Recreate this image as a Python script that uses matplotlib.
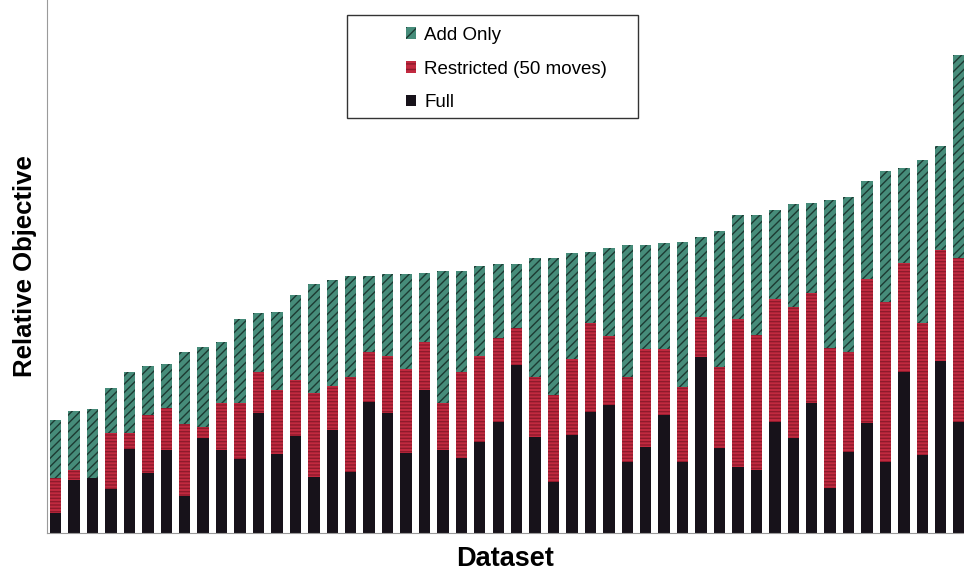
"""
Relative objective per dataset for three move strategies (overlapping bars).
"""

import matplotlib

matplotlib.use("Agg")
import matplotlib.pyplot as plt
from matplotlib.patches import Patch, Rectangle
import numpy as np

# bar heights (arbitrary units, baseline = 0)
add_only = [
    1.13, 1.22, 1.24, 1.45, 1.61, 1.67, 1.69, 1.81, 1.86, 1.91,
    2.14, 2.20, 2.21, 2.38, 2.49, 2.53, 2.57, 2.57, 2.59, 2.59,
    2.60, 2.62, 2.62, 2.67, 2.69, 2.69, 2.75, 2.75, 2.80, 2.81,
    2.85, 2.88, 2.88, 2.90, 2.91, 2.96, 3.02, 3.18, 3.18, 3.23,
    3.29, 3.30, 3.33, 3.36, 3.52, 3.62, 3.65, 3.73, 3.87, 4.78,
]
restricted = [
    0.55, 0.63, 0.50, 1.00, 1.00, 1.18, 1.25, 1.09, 1.06, 1.30,
    1.30, 1.61, 1.43, 1.53, 1.40, 1.47, 1.56, 1.81, 1.77, 1.64,
    1.91, 1.30, 1.61, 1.77, 1.95, 2.05, 1.56, 1.38, 1.74, 2.10,
    1.97, 1.56, 1.84, 1.84, 1.46, 2.16, 1.66, 2.14, 1.98, 2.34,
    2.26, 2.40, 1.85, 1.81, 2.54, 2.31, 2.70, 2.10, 2.83, 2.75,
]
full = [
    0.20, 0.53, 0.55, 0.44, 0.84, 0.60, 0.83, 0.37, 0.95, 0.83,
    0.74, 1.20, 0.79, 0.97, 0.56, 1.03, 0.61, 1.31, 1.20, 0.80,
    1.43, 0.83, 0.75, 0.91, 1.11, 1.68, 0.96, 0.51, 0.98, 1.21,
    1.28, 0.71, 0.86, 1.18, 0.71, 1.76, 0.85, 0.66, 0.63, 1.11,
    0.95, 1.30, 0.45, 0.81, 1.10, 0.71, 1.61, 0.78, 1.72, 1.11,
]
labels = ["Add Only", "Restricted (50 moves)", "Full"]

GREEN = "#468c7a"
GREEN_HATCH = "#1c3a32"
RED = "#c22a40"
RED_HATCH = "#8e1a2b"
BLACK = "#17121a"

plt.rcParams["font.family"] = ["Liberation Sans", "DejaVu Sans"]
plt.rcParams["hatch.linewidth"] = 1.0

fig = plt.figure(figsize=(9.64, 5.74), dpi=100)
ax = fig.add_axes([47 / 964, 41 / 574, 917 / 964, 533 / 574])

x = np.arange(len(add_only))
width = 0.62
ax.bar(x, add_only, width, color=GREEN, edgecolor=GREEN_HATCH, hatch="////", linewidth=0)
ax.bar(x, restricted, width, color=RED, edgecolor=RED_HATCH, hatch="-----", linewidth=0)
ax.bar(x, full, width, color=BLACK, linewidth=0)

ax.set_xlim(-0.47, 49.26)
ax.set_ylim(0, 5.33)
ax.set_xticks([])
ax.set_yticks([])
for side in ("top", "right"):
    ax.spines[side].set_visible(False)
for side in ("left", "bottom"):
    ax.spines[side].set_color("#9a9a9a")
    ax.spines[side].set_linewidth(0.8)

ax.set_ylabel("Relative Objective", fontsize=18.5, fontweight="bold", labelpad=7)
ax.set_xlabel("Dataset", fontsize=19.5, fontweight="bold", labelpad=9)

# legend frame drawn by hand, entries sit inside it
ax.add_patch(
    Rectangle(
        (0.327, 0.779), 0.317, 0.193, transform=ax.transAxes,
        facecolor="white", edgecolor="#333333", linewidth=1.0, zorder=5,
    )
)
handles = [
    Patch(facecolor=GREEN, edgecolor=GREEN_HATCH, hatch="///", linewidth=0),
    Patch(facecolor=RED, edgecolor=RED_HATCH, hatch="---", linewidth=0),
    Patch(facecolor=BLACK, linewidth=0),
]
leg = ax.legend(
    handles,
    labels,
    loc="upper left",
    bbox_to_anchor=(0.383, 0.964),
    frameon=False,
    fontsize=13.5,
    handlelength=0.55,
    handleheight=0.55,
    handletextpad=0.45,
    labelspacing=0.9,
    borderaxespad=0,
)
leg.set_zorder(6)

fig.savefig("out.png", dpi=100)
